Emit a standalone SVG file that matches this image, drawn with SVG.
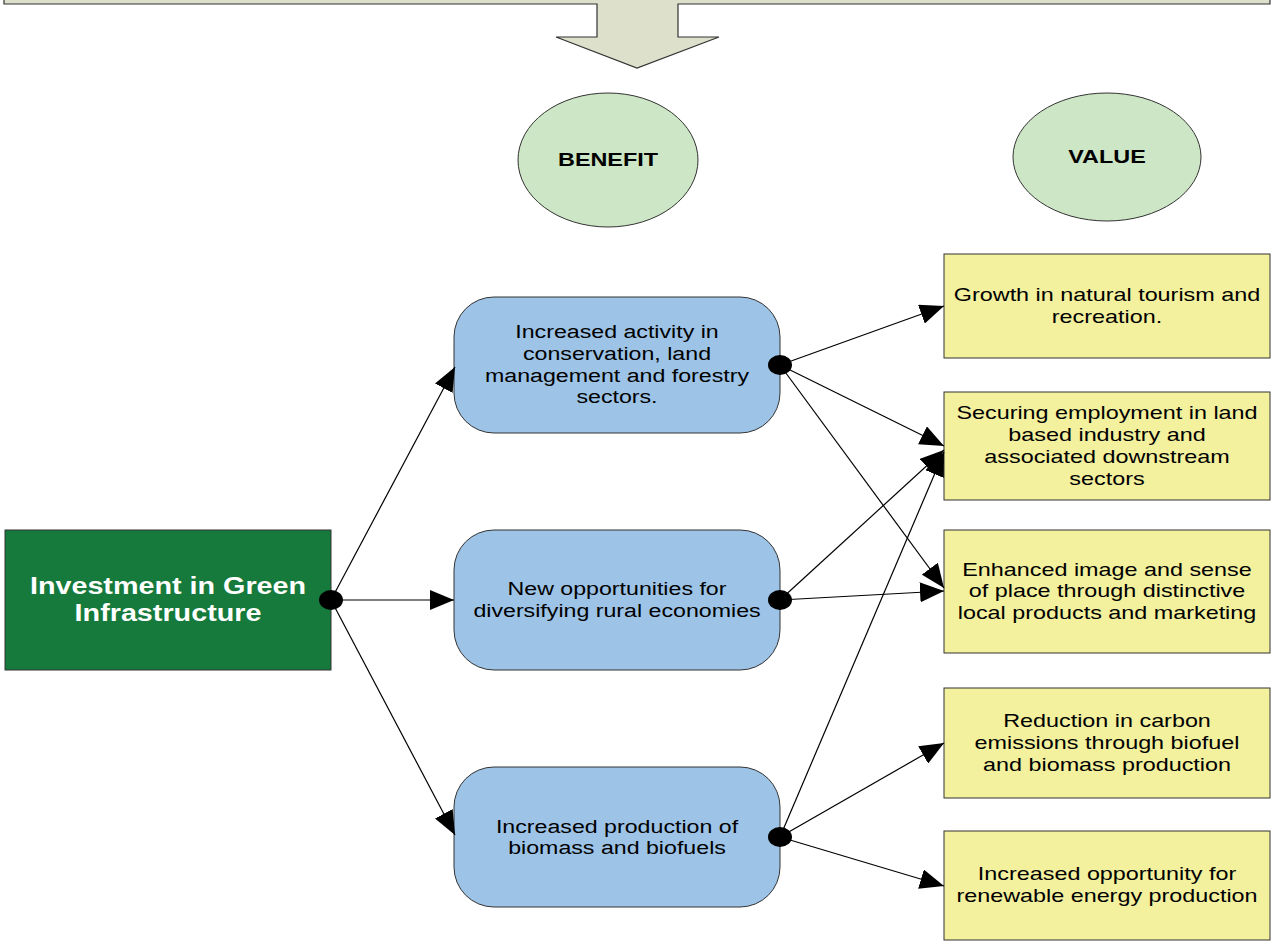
<svg xmlns="http://www.w3.org/2000/svg" width="1273" height="944" viewBox="0 0 1273 944">
<style>
.t{font-family:"Liberation Sans",Arial,sans-serif;font-size:19px;fill:#000;text-anchor:middle}
.g{font-family:"Liberation Sans",Arial,sans-serif;font-size:23px;font-weight:bold;fill:#fff;text-anchor:middle}
.e{font-family:"Liberation Sans",Arial,sans-serif;font-size:18px;font-weight:bold;fill:#000;text-anchor:middle}
.blue{fill:#9dc3e6;stroke:#333;stroke-width:1}
.yel{fill:#f3f09e;stroke:#333;stroke-width:1}
.ell{fill:#cde6c5;stroke:#333;stroke-width:1}
.ln{stroke:#000;stroke-width:1.2;fill:none;marker-end:url(#ah)}
.dot{fill:#000}
</style>
<defs>
<marker id="ah" markerUnits="userSpaceOnUse" markerWidth="24" markerHeight="20" refX="24" refY="10" orient="auto" viewBox="0 0 24 20">
<path d="M0,0 L24,10 L0,20 z" fill="#000"/>
</marker>
</defs>
<rect width="1273" height="944" fill="#fff"/>
<g id="top-arrow">
<polygon points="4,-5 1270,-5 1270,4 678,4 678,37 719,37 637,68 556,37 597,37 597,4 4,4" fill="#dde0cb" stroke="#333" stroke-width="1.2"/>
</g>
<g id="benefit">
<ellipse cx="608" cy="160" rx="90" ry="67" class="ell"/>
<text class="e" transform="translate(608 0) scale(1.3 1)" x="0" y="166">BENEFIT</text>
</g>
<g id="value">
<ellipse cx="1107" cy="157" rx="94" ry="64" class="ell"/>
<text class="e" transform="translate(1107 0) scale(1.3 1)" x="0" y="163">VALUE</text>
</g>
<g id="investment">
<rect x="5" y="530" width="326" height="140" fill="#157a3b" stroke="#333" stroke-width="1"/>
<text class="g" transform="translate(168 0) scale(1.25 1)"><tspan x="0" y="594">Investment in Green</tspan><tspan x="0" y="621">Infrastructure</tspan></text>
</g>
<g id="b1">
<rect x="454" y="297" width="326" height="136" rx="40" ry="40" class="blue"/>
<text class="t" transform="translate(617 0) scale(1.22 1)"><tspan x="0" y="338">Increased activity in</tspan><tspan x="0" y="360">conservation, land</tspan><tspan x="0" y="382">management and forestry</tspan><tspan x="0" y="403">sectors.</tspan></text>
</g>
<g id="b2">
<rect x="454" y="530" width="326" height="140" rx="40" ry="40" class="blue"/>
<text class="t" transform="translate(617 0) scale(1.22 1)"><tspan x="0" y="595">New opportunities for</tspan><tspan x="0" y="617">diversifying rural economies</tspan></text>
</g>
<g id="b3">
<rect x="454" y="767" width="326" height="140" rx="40" ry="40" class="blue"/>
<text class="t" transform="translate(617 0) scale(1.22 1)"><tspan x="0" y="833">Increased production of</tspan><tspan x="0" y="854">biomass and biofuels</tspan></text>
</g>
<g id="v1">
<rect x="944" y="254" width="326" height="104" class="yel"/>
<text class="t" transform="translate(1107 0) scale(1.23 1)"><tspan x="0" y="301">Growth in natural tourism and</tspan><tspan x="0" y="323">recreation.</tspan></text>
</g>
<g id="v2">
<rect x="944" y="392" width="326" height="108" class="yel"/>
<text class="t" transform="translate(1107 0) scale(1.23 1)"><tspan x="0" y="419">Securing employment in land</tspan><tspan x="0" y="441">based industry and</tspan><tspan x="0" y="463">associated downstream</tspan><tspan x="0" y="485">sectors</tspan></text>
</g>
<g id="v3">
<rect x="944" y="530" width="326" height="123" class="yel"/>
<text class="t" transform="translate(1107 0) scale(1.23 1)"><tspan x="0" y="576">Enhanced image and sense</tspan><tspan x="0" y="597">of place through distinctive</tspan><tspan x="0" y="619">local products and marketing</tspan></text>
</g>
<g id="v4">
<rect x="944" y="688" width="326" height="110" class="yel"/>
<text class="t" transform="translate(1107 0) scale(1.23 1)"><tspan x="0" y="727">Reduction in carbon</tspan><tspan x="0" y="749">emissions through biofuel</tspan><tspan x="0" y="771">and biomass production</tspan></text>
</g>
<g id="v5">
<rect x="944" y="831" width="326" height="109" class="yel"/>
<text class="t" transform="translate(1107 0) scale(1.23 1)"><tspan x="0" y="880">Increased opportunity for</tspan><tspan x="0" y="902">renewable energy production</tspan></text>
</g>
<g id="connectors">
<path class="ln" d="M331,600 L455,367"/>
<path class="ln" d="M331,600 L454,600"/>
<path class="ln" d="M331,600 L455,835"/>
<path class="ln" d="M780,365 L944,306"/>
<path class="ln" d="M780,365 L944,446"/>
<path class="ln" d="M780,365 L944,588"/>
<path class="ln" d="M780,600 L944,450"/>
<path class="ln" d="M780,600 L944,591"/>
<path class="ln" d="M780,837 L944,452"/>
<path class="ln" d="M780,837 L944,743"/>
<path class="ln" d="M780,837 L944,886"/>
<ellipse class="dot" cx="331" cy="600" rx="12" ry="10"/>
<ellipse class="dot" cx="780" cy="365" rx="12" ry="10"/>
<ellipse class="dot" cx="780" cy="600" rx="12" ry="10"/>
<ellipse class="dot" cx="780" cy="837" rx="12" ry="10"/>
</g>
</svg>
